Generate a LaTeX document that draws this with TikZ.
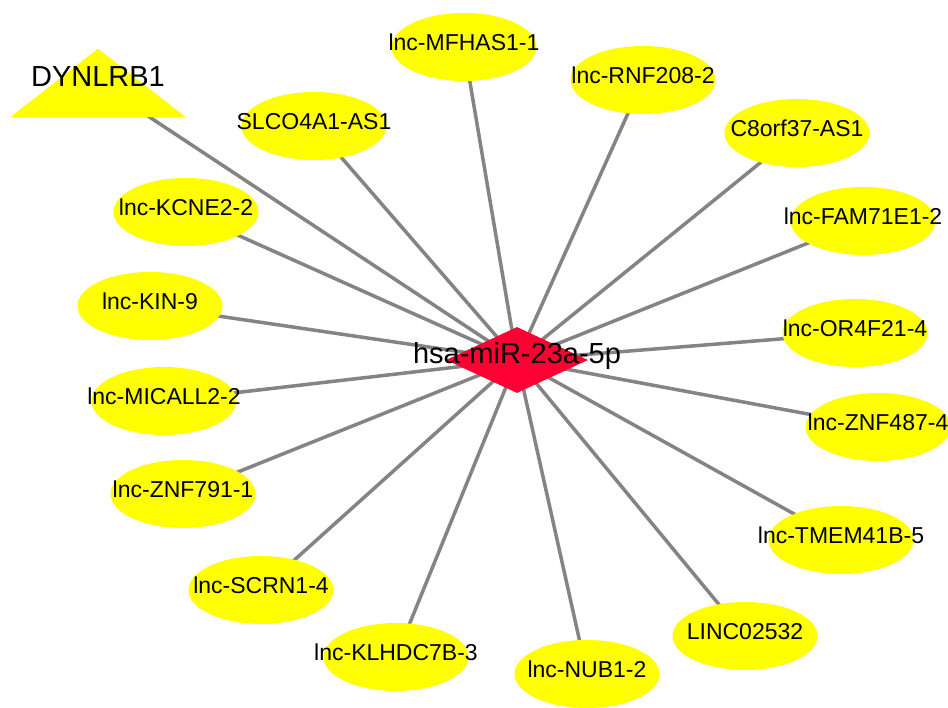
\documentclass[tikz,border=0pt]{standalone}
\usepackage{fontspec}
\setmainfont{Liberation Sans}
\usetikzlibrary{shapes.geometric}
\pgfdeclarelayer{edgelayer}
\pgfdeclarelayer{shapelayer}
\pgfsetlayers{edgelayer,shapelayer,main}
\definecolor{nodeyellow}{RGB}{255,255,0}
\definecolor{mirred}{RGB}{255,0,51}
\definecolor{edgegray}{RGB}{132,132,132}
\begin{document}
\begin{tikzpicture}[x=1pt,y=-1pt,
  txt/.style={inner sep=0pt, text height=0.716em, text depth=0pt, font=\fontsize{23}{23}\selectfont},
  bigtxt/.style={inner sep=0pt, text height=0.716em, text depth=0pt, font=\fontsize{29}{29}\selectfont},
  lnc/.style={ellipse, fill=nodeyellow, draw=none, minimum width=145pt, minimum height=68pt, inner sep=0pt, label={[txt]center:#1}},
  conn/.style={draw=edgegray, line width=3.5pt},
]
\useasboundingbox (0,0) rectangle (948,708);
% central node
\node[diamond, fill=mirred, draw=none, minimum width=142pt, minimum height=66pt, inner sep=0pt,
      label={[bigtxt]center:hsa-miR-23a-5p}] (mir) at (517,360) {};
% target nodes
\node[bigtxt, minimum width=175pt, minimum height=68pt] (dyn) at (98,83) {DYNLRB1};
\node[lnc=lnc-MFHAS1-1]    (mf)   at (464,47)  {};
\node[lnc=lnc-RNF208-2]    (rnf)  at (643,80)  {};
\node[lnc=C8orf37-AS1]     (c8)   at (797,133) {};
\node[lnc=lnc-FAM71E1-2]   (fam)  at (863,221) {};
\node[lnc=lnc-OR4F21-4]    (orf)  at (855,333) {};
\node[lnc=lnc-ZNF487-4]    (za)   at (878,427) {};
\node[lnc=lnc-TMEM41B-5]   (tm)   at (841,540) {};
\node[lnc=LINC02532]       (linc) at (745,636) {};
\node[lnc=lnc-NUB1-2]      (nub)  at (587,674) {};
\node[lnc=lnc-KLHDC7B-3]   (kl)   at (396,657) {};
\node[lnc=lnc-SCRN1-4]     (scrn) at (261,590) {};
\node[lnc=lnc-ZNF791-1]    (zb)   at (183,494) {};
\node[lnc=lnc-MICALL2-2]   (mic)  at (164,401) {};
\node[lnc=lnc-KIN-9]       (kin)  at (150,306) {};
\node[lnc=lnc-KCNE2-2]     (kc)   at (186,212) {};
\node[lnc=SLCO4A1-AS1]     (slco) at (314,126) {};
\begin{pgfonlayer}{shapelayer}
  \fill[nodeyellow] (dyn.south west) -- (dyn.south east) -- (dyn.north) -- cycle;
\end{pgfonlayer}
\begin{pgfonlayer}{edgelayer}
  \fill[white] (0,0) rectangle (948,708);
  \foreach \n in {dyn,mf,rnf,c8,fam,orf,za,tm,linc,nub,kl,scrn,zb,mic,kin,kc,slco}
    \draw[conn] (mir.center) -- (\n.center);
\end{pgfonlayer}
\end{tikzpicture}
\end{document}
